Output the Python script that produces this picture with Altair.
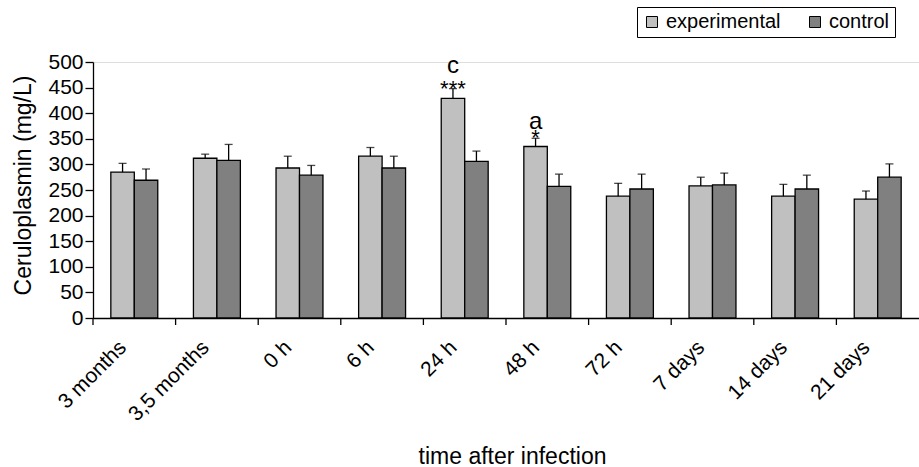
import altair as alt
import pandas as pd

categories = ["3 months", "3,5 months", "0 h", "6 h", "24 h", "48 h", "72 h", "7 days", "14 days", "21 days"]
experimental = [285, 312, 293, 316, 429, 335, 238, 258, 238, 232]
experimental_err = [17, 8, 23, 17, 19, 16, 25, 17, 23, 16]
control = [269, 308, 279, 293, 306, 257, 252, 260, 252, 275]
control_err = [22, 31, 19, 23, 20, 24, 29, 23, 27, 26]
series = ["experimental", "control"]
colors = ["#c0c0c0", "#808080"]
y_ticks = [0, 50, 100, 150, 200, 250, 300, 350, 400, 450, 500]

# significance annotations on the experimental bars
ann_cat = ["24 h", "48 h"]
ann_stars = ["***", "*"]
ann_letter = ["c", "a"]

rows = []
for i, c in enumerate(categories):
    rows.append({"cat": c, "series": "experimental", "value": experimental[i], "top": experimental[i] + experimental_err[i]})
    rows.append({"cat": c, "series": "control", "value": control[i], "top": control[i] + control_err[i]})
df = pd.DataFrame(rows)

ann_rows = []
for i, c in enumerate(ann_cat):
    k = categories.index(c)
    ann_rows.append({"cat": c, "series": "experimental", "top": experimental[k] + experimental_err[k],
                     "stars": ann_stars[i], "letter": ann_letter[i]})
adf = pd.DataFrame(ann_rows)

FONT = "Liberation Sans"
W, H = 826, 256

xaxis = alt.Axis(title="time after infection", labelAngle=-45, labelAlign="right",
                 labelBaseline="middle", labelFontSize=21, labelFont=FONT, labelColor="black",
                 labelOverlap=False, labelOffset=-11, labelPadding=26,
                 titleFontSize=23, titleFont=FONT, titleFontWeight="normal", titleColor="black",
                 titleX=419, titleY=145, titleBaseline="alphabetic", titleAlign="center",
                 ticks=False, domainColor="black", domainWidth=1.3)
yaxis = alt.Axis(title="Ceruloplasmin (mg/L)", values=y_ticks, grid=False,
                 labelFontSize=21, labelFont=FONT, labelColor="black", labelPadding=2,
                 labelOverlap=False, labelFlush=False,
                 titleFontSize=23, titleFont=FONT, titleFontWeight="normal", titleColor="black",
                 titleX=-63, titleY=123, titleBaseline="alphabetic", titleAlign="center",
                 tickColor="black", tickSize=8, domainColor="black",
                 domainWidth=1.3, tickWidth=1.3)
xscale = alt.Scale(paddingInner=0, paddingOuter=0)
yscale = alt.Scale(domain=[0, 500], nice=False)


def X(**kw):
    return alt.X("cat:N", sort=categories, scale=xscale, axis=xaxis, **kw)


def Y(field):
    return alt.Y(field, scale=yscale, axis=yaxis)


xoff = alt.XOffset("series:N", sort=series, scale=alt.Scale(paddingInner=0, paddingOuter=0.76))

base = alt.Chart(df)

bars = base.mark_bar(stroke="black", strokeWidth=1.3).encode(
    x=X(),
    xOffset=xoff,
    y=Y("value:Q"),
    color=alt.Color("series:N", sort=series, scale=alt.Scale(domain=series, range=colors),
                    legend=alt.Legend(title=None, orient="none", direction="horizontal",
                                      legendX=544, legendY=-55, strokeColor="black",
                                      padding=5, labelFontSize=20, labelFont=FONT, labelColor="black",
                                      symbolType="square", symbolSize=121, symbolStrokeColor="black",
                                      symbolStrokeWidth=1, columnPadding=24, labelOffset=4)),
)

err = base.mark_rule(color="black", strokeWidth=1.3).encode(
    x=X(), xOffset=xoff, y=Y("value:Q"), y2="top:Q")

caps = base.mark_tick(color="black", thickness=1.3, size=8, orient="horizontal").encode(
    x=X(), xOffset=xoff, y=Y("top:Q"))

ticks = alt.Chart(pd.DataFrame({"cat": categories})).mark_rule(color="black", strokeWidth=1.3).encode(
    x=X(bandPosition=0),
    y=alt.value(H), y2=alt.value(H + 7))

stars = alt.Chart(adf).mark_text(fontSize=22, font=FONT, color="black", baseline="alphabetic", dy=7).encode(
    x=X(), xOffset=xoff, y=Y("top:Q"), text="stars:N")

letter_c = alt.Chart(adf).transform_filter(alt.datum.letter == "c").mark_text(
    fontSize=24, font=FONT, color="black", baseline="alphabetic", dy=-16).encode(
    x=X(), xOffset=xoff, y=Y("top:Q"), text="letter:N")

letter_a = alt.Chart(adf).transform_filter(alt.datum.letter == "a").mark_text(
    fontSize=24, font=FONT, color="black", baseline="alphabetic", dy=-9).encode(
    x=X(), xOffset=xoff, y=Y("top:Q"), text="letter:N")

chart = alt.layer(bars, err, caps, ticks, stars, letter_c, letter_a).properties(
    width=W, height=H,
    autosize=alt.AutoSizeParams(type="none"),
    padding={"left": 93, "top": 62, "right": 0, "bottom": 149},
).configure_view(stroke=None).configure(background="white")

chart.save("out.html", embed_options={"renderer": "svg", "actions": False})
